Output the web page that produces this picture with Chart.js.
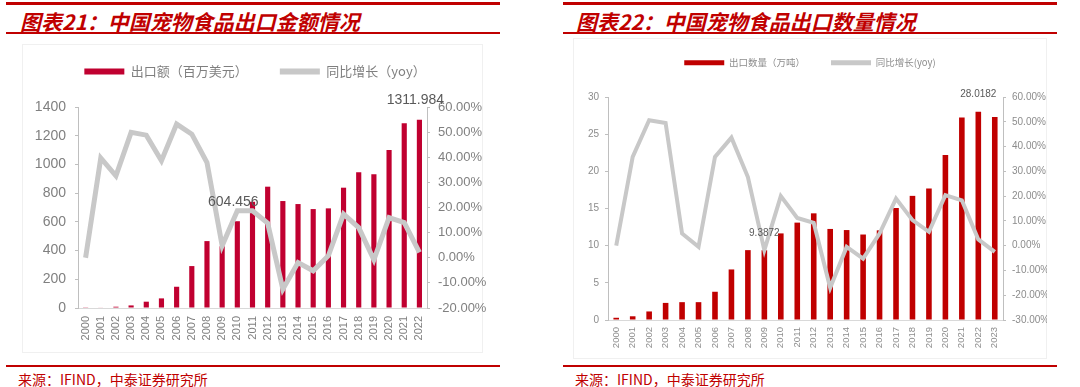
<!DOCTYPE html>
<html>
<head>
<meta charset="utf-8">
<script src="https://cdn.jsdelivr.net/npm/chart.js@4.4.0/dist/chart.umd.min.js"></script>
<style>
  body { margin: 0; width: 1080px; height: 387px; background: #fff; position: relative; overflow: hidden; font-family: "Noto Sans CJK SC", sans-serif; }
  .rule { position: absolute; height: 2px; background: #c00000; }
  .title { position: absolute; top: 6px; font-size: 21px; font-weight: 700; font-style: italic; color: #c00000; white-space: nowrap; }
  .box { position: absolute; border: 1px solid #f0f0f0; box-sizing: border-box; }
  .source { position: absolute; top: 369px; font-size: 14px; color: #c00000; white-space: nowrap; }
  canvas { position: absolute; }
</style>
</head>
<body>
<div class="rule" style="left:6px;width:494px;top:2px;height:3px"></div>
<div class="title" style="left:20px">图表21：中国宠物食品出口金额情况</div>
<div class="rule" style="left:6px;width:494px;top:32px"></div>
<div class="box" style="left:22px;top:44px;width:461px;height:309px"></div>
<div class="rule" style="left:6px;width:494px;top:365px"></div>
<div class="source" style="left:18px">来源：IFIND，中泰证券研究所</div>

<div class="rule" style="left:563px;width:494px;top:2px;height:3px"></div>
<div class="title" style="left:576px">图表22：中国宠物食品出口数量情况</div>
<div class="rule" style="left:563px;width:494px;top:32px"></div>
<div class="box" style="left:573px;top:38px;width:474px;height:321px"></div>
<div class="rule" style="left:563px;width:494px;top:365px"></div>
<div class="source" style="left:575px">来源：IFIND，中泰证券研究所</div>

<canvas id="valueChart" style="left:10px;top:10px;width:490px;height:343px" width="490" height="343"></canvas>
<canvas id="volumeChart" style="left:573px;top:10px;width:474px;height:349px" width="474" height="349"></canvas>

<script>
// left chart: export value (USD mn) and yoy %
const valueYears = ['2000','2001','2002','2003','2004','2005','2006','2007','2008','2009','2010','2011',
  '2012','2013','2014','2015','2016','2017','2018','2019','2020','2021','2022'];
const exportValue = [2, 4, 9, 18, 44, 67, 148, 292, 466, 430, 604.456, 740,
  845, 745, 724, 689, 694, 838, 945, 931, 1100, 1286, 1311.984];
const valueYoy = [0, 39.7, 32.6, 49.9, 48.8, 38.6, 53.2, 49.2, 37.9, 4.8, 18.7, 18.7,
  13.8, -12.5, -1.9, -5.2, 0.8, 17.4, 12.0, -0.8, 16.0, 14.0, 2.1];
const valueLabelIdx = [10, 22];

// right chart: export volume (10k tonnes) and yoy %
const volumeYears = ['2000','2001','2002','2003','2004','2005','2006','2007','2008','2009','2010','2011',
  '2012','2013','2014','2015','2016','2017','2018','2019','2020','2021','2022','2023'];
const exportVolume = [0.3, 0.5, 1.15, 2.3, 2.4, 2.4, 3.8, 6.8, 9.4, 9.3872, 11.65, 13.1,
  14.35, 12.25, 12.1, 11.5, 12.06, 15.07, 16.7, 17.7, 22.2, 27.25, 28.0182, 27.3];
const volumeYoy = [0, 35.8, 50.6, 49.5, 4.9, -0.5, 35.8, 43.6, 27.7, -1.8, 20.0, 11.2,
  9.2, -17.0, -0.5, -5.2, 4.9, 19.0, 10.3, 5.6, 20.4, 18.3, 2.5, -2.5];
const volumeLabelIdx = [9, 22];

Chart.defaults.font.family = '"Liberation Sans", "Noto Sans CJK SC", sans-serif';
Chart.defaults.animation = false;

const pct = v => v.toFixed(2) + '%';
const plain = v => String(v);

// writes the value above selected bars
const valueLabels = {
  id: 'valueLabels',
  afterDatasetsDraw(chart, args, opts) {
    const meta = chart.getDatasetMeta(0);
    const ctx = chart.ctx;
    ctx.save();
    ctx.font = opts.font;
    ctx.fillStyle = opts.color;
    ctx.textAlign = 'center';
    ctx.textBaseline = 'bottom';
    opts.indexes.forEach(i => {
      const bar = meta.data[i];
      ctx.fillText(String(chart.data.datasets[0].data[i]), bar.x + opts.dx, bar.y - opts.offset);
    });
    ctx.restore();
  }
};

// fixes the legend height so the plot area starts where it should
const legendHeight = h => ({
  id: 'legendHeight',
  beforeInit(chart) {
    const fit = chart.legend.fit;
    chart.legend.fit = function () {
      fit.bind(chart.legend)();
      this.height = h;
    };
  }
});

function makeChart(id, cfg) {
  return new Chart(document.getElementById(id), {
    type: 'bar',
    data: {
      labels: cfg.labels,
      datasets: [
        {
          type: 'bar', label: cfg.barLabel, data: cfg.bars, yAxisID: 'y',
          backgroundColor: cfg.barColor, barPercentage: cfg.barPct, categoryPercentage: 1, order: 1
        },
        {
          type: 'line', label: cfg.lineLabel, data: cfg.line, yAxisID: 'y1',
          borderColor: '#c8c8c8', backgroundColor: '#c8c8c8', borderWidth: cfg.lineWidth,
          pointRadius: 0, tension: 0, order: 0
        }
      ]
    },
    options: {
      responsive: false,
      layout: { autoPadding: false, padding: { top: cfg.padTop, left: 0, right: 0, bottom: 0 } },
      plugins: {
        tooltip: { enabled: false },
        legend: {
          position: 'top',
          labels: {
            boxWidth: 40, boxHeight: cfg.boxH, padding: cfg.legendGap,
            color: cfg.legendColor, font: { size: cfg.legendSize, family: '"Noto Sans CJK SC", sans-serif' },
            generateLabels: chart => chart.data.datasets.map((ds, i) => ({
              text: ds.label, fillStyle: ds.backgroundColor, strokeStyle: ds.backgroundColor,
              lineWidth: 0, datasetIndex: i, fontColor: cfg.legendColor, hidden: false
            }))
          }
        },
        valueLabels: {
          indexes: cfg.labelIdx, font: cfg.labelFont, color: '#595959', offset: cfg.labelOffset, dx: cfg.labelDx
        }
      },
      scales: {
        x: {
          grid: { display: false, drawTicks: false },
          border: { display: true, color: '#d9d9d9' },
          ticks: { autoSkip: false, minRotation: 90, maxRotation: 90, padding: cfg.xPad, color: cfg.tickColor, font: { size: cfg.xSize } },
          afterFit: s => { s.height = cfg.xHeight; }
        },
        y: {
          position: 'left', min: cfg.yMin, max: cfg.yMax,
          grid: { drawOnChartArea: false, tickLength: 3, color: '#bfbfbf' },
          border: { color: '#bfbfbf' },
          ticks: { stepSize: cfg.yStep, padding: cfg.yPad, color: cfg.tickColor, font: { size: cfg.ySize }, callback: plain },
          afterFit: s => { s.width = cfg.yWidth; }
        },
        y1: {
          position: 'right', min: cfg.rMin, max: 60,
          grid: { drawOnChartArea: false, tickLength: 3, color: '#bfbfbf' },
          border: { color: '#bfbfbf' },
          ticks: { stepSize: 10, padding: cfg.rPad, color: cfg.tickColor, font: { size: cfg.rSize }, callback: pct },
          afterFit: s => { s.width = cfg.rWidth; }
        }
      }
    },
    plugins: [valueLabels, legendHeight(cfg.legendH)]
  });
}

makeChart('valueChart', {
  labels: valueYears, bars: exportValue, line: valueYoy, labelIdx: valueLabelIdx,
  barLabel: '出口额（百万美元）', lineLabel: '同比增长（yoy）',
  barColor: '#c00030', barPct: 0.34, lineWidth: 5,
  padTop: 23, legendH: 74, boxH: 6, legendGap: 32, legendSize: 13, legendColor: '#7f7f7f',
  labelFont: '14px "Liberation Sans", sans-serif', labelOffset: 12, labelDx: -4,
  tickColor: '#808080', xSize: 11, xPad: 8, xHeight: 45,
  yMin: 0, yMax: 1400, yStep: 200, ySize: 14, yPad: 9, yWidth: 68,
  rMin: -20, rSize: 13, rPad: 8, rWidth: 73
});

makeChart('volumeChart', {
  labels: volumeYears, bars: exportVolume, line: volumeYoy, labelIdx: volumeLabelIdx,
  barLabel: '出口数量（万吨）', lineLabel: '同比增长(yoy)',
  barColor: '#c00000', barPct: 0.34, lineWidth: 4,
  padTop: 22, legendH: 65, boxH: 5, legendGap: 26, legendSize: 9.5, legendColor: '#8c8c8c',
  labelFont: '10px "Liberation Sans", sans-serif', labelOffset: 12, labelDx: 0,
  tickColor: '#8c8c8c', xSize: 9.5, xPad: 7, xHeight: 39,
  yMin: 0, yMax: 30, yStep: 5, ySize: 10, yPad: 6, yWidth: 35,
  rMin: -30, rSize: 10, rPad: 6, rWidth: 44
});
</script>
</body>
</html>
